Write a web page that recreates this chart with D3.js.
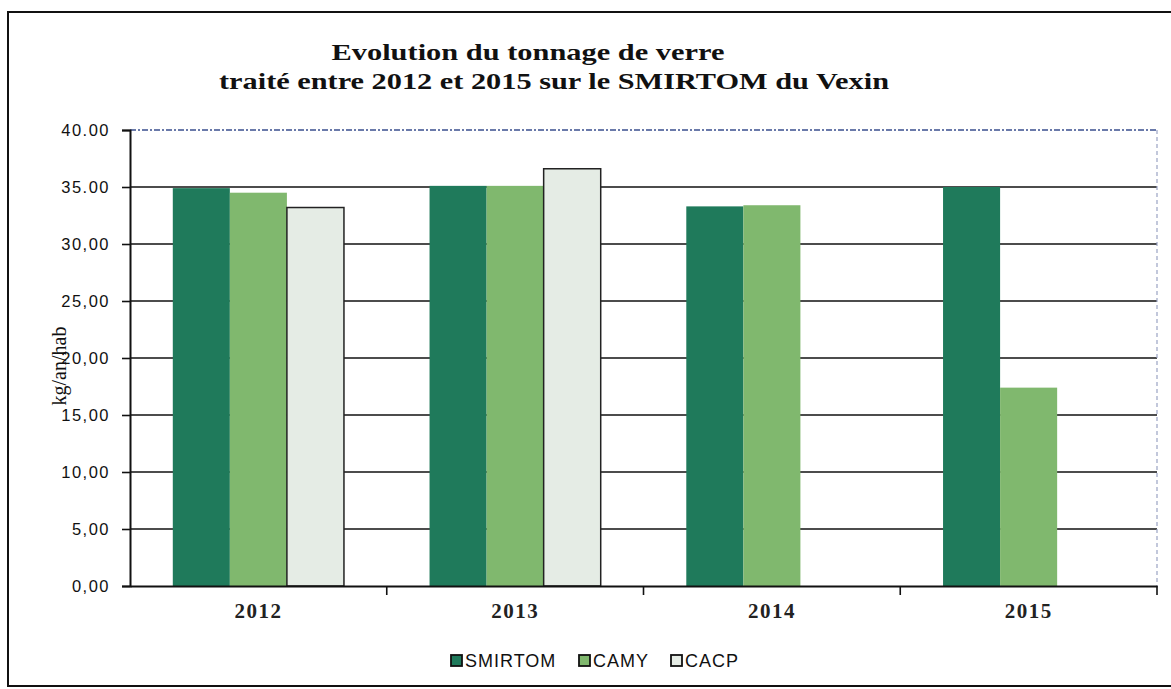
<!DOCTYPE html>
<html lang="fr">
<head>
    <meta charset="UTF-8">
    <title>Verre SMIRTOM du Vexin</title>
    <script src="https://d3js.org/d3.v7.min.js"></script>
    <style>
        body { margin: 0; background: #fff; }
    </style>
</head>
<body>
    <div id="graph"></div>
    <script>
        // données (kg/an/hab)
        const annees = ["2012", "2013", "2014", "2015"];
        const series = ["SMIRTOM", "CAMY", "CACP"];
        const smirtom = [34.9, 35.1, 33.3, 35.0];
        const camy = [34.5, 35.1, 33.4, 17.4];
        const cacp = [33.2, 36.6, null, null];
        const yTicks = [0, 5, 10, 15, 20, 25, 30, 35, 40];
        const yTickLabels = ["0,00", "5,00", "10,00", "15,00", "20,00", "25,00", "30,00", "35.00", "40.00"];
        const titre = ["Evolution du tonnage de verre", "traité entre 2012 et 2015 sur le SMIRTOM du Vexin"];

        const valeurs = { SMIRTOM: smirtom, CAMY: camy, CACP: cacp };
        const couleurs = { SMIRTOM: "#1f7a5b", CAMY: "#80b86e", CACP: "#e5ece5" };

        const W = 1171, H = 689;
        const margin = {top: 130, right: 14, bottom: 103, left: 130},
            width = W - margin.left - margin.right,
            height = H - margin.top - margin.bottom;

        const root = d3.select("#graph")
            .append("svg")
            .attr("width", W)
            .attr("height", H);

        // cadre extérieur (le bord droit sort du scan)
        root.append("path")
            .attr("d", "M1180,12 L8,12 L8,686 L1180,686")
            .attr("fill", "none")
            .attr("stroke", "#111")
            .attr("stroke-width", 2);

        // titre, étiré comme sur le scan
        const titreX = [528, 554], titreY = [60, 89], titreL = [393, 670];
        root.selectAll(".titre")
            .data(titre)
            .join("text")
            .attr("class", "titre")
            .attr("x", (d, i) => titreX[i])
            .attr("y", (d, i) => titreY[i])
            .attr("text-anchor", "middle")
            .attr("textLength", (d, i) => titreL[i])
            .attr("lengthAdjust", "spacingAndGlyphs")
            .style("font-family", "'Liberation Serif', 'Times New Roman', serif")
            .style("font-weight", "bold")
            .style("font-size", "23px")
            .attr("fill", "#111")
            .text(d => d);

        const svg = root.append("g")
            .attr("transform", `translate(${margin.left},${margin.top})`);

        const x0 = d3.scaleBand()
            .domain(annees)
            .range([0, width])
            .padding(0);

        const x1 = d3.scaleBand()
            .domain(series)
            .range([0, x0.bandwidth()])
            .paddingInner(0)
            .paddingOuter(0.75);

        const y = d3.scaleLinear()
            .domain([0, 40])
            .range([height, 0]);

        // grille
        svg.append("g")
            .selectAll("line")
            .data(yTicks.filter(d => d > 0 && d < 40))
            .join("line")
            .attr("x1", 0).attr("x2", width)
            .attr("y1", d => y(d)).attr("y2", d => y(d))
            .attr("stroke", "#111")
            .attr("stroke-width", 1.6);

        // bord de la zone de tracé (pointillé)
        svg.append("line")
            .attr("x1", 0).attr("x2", width)
            .attr("y1", y(40)).attr("y2", y(40))
            .attr("stroke", "#3a4f8f")
            .attr("stroke-width", 1.5)
            .attr("stroke-dasharray", "6,2,2,2");
        svg.append("line")
            .attr("x1", width).attr("x2", width)
            .attr("y1", y(40)).attr("y2", height)
            .attr("stroke", "#9aa3c4")
            .attr("stroke-width", 1.2)
            .attr("stroke-dasharray", "4,3");

        // barres
        const groupes = svg.append("g")
            .selectAll("g")
            .data(annees)
            .join("g")
            .attr("transform", d => `translate(${x0(d)},0)`);

        groupes.selectAll("rect")
            .data((d, i) => series.map(s => ({serie: s, v: valeurs[s][i]})).filter(e => e.v !== null))
            .join("rect")
            .attr("x", d => x1(d.serie))
            .attr("y", d => y(d.v))
            .attr("width", x1.bandwidth())
            .attr("height", d => height - y(d.v))
            .attr("fill", d => couleurs[d.serie])
            .attr("stroke", d => d.serie === "CACP" ? "#222" : "none")
            .attr("stroke-width", 1.5);

        // axe Y
        const axeY = svg.append("g")
            .call(d3.axisLeft(y).tickValues(yTicks).tickSize(8).tickFormat((d, i) => yTickLabels[i]));
        axeY.select(".domain").attr("stroke", "#111").attr("stroke-width", 2);
        axeY.selectAll(".tick line").attr("stroke", "#111").attr("stroke-width", 1.6);
        axeY.selectAll("text")
            .attr("x", -20)
            .style("font-family", "'Liberation Sans', Arial, sans-serif")
            .style("font-size", "16.5px")
            .style("letter-spacing", "1.5px")
            .attr("fill", "#111");

        // axe X
        const axeX = svg.append("g")
            .attr("transform", `translate(0,${height})`)
            .call(d3.axisBottom(x0).tickSize(0).tickPadding(17));
        axeX.select(".domain").attr("stroke", "#111").attr("stroke-width", 2);
        axeX.selectAll("text")
            .style("font-family", "'Liberation Serif', 'Times New Roman', serif")
            .style("font-size", "21px")
            .style("font-weight", "bold")
            .style("letter-spacing", "1.5px")
            .attr("fill", "#222");
        axeX.append("g")
            .selectAll("line")
            .data(annees.slice(1).concat([null]))
            .join("line")
            .attr("x1", d => d === null ? width : x0(d))
            .attr("x2", d => d === null ? width : x0(d))
            .attr("y1", 0).attr("y2", 9)
            .attr("stroke", "#111")
            .attr("stroke-width", 1.6);

        // titre axe Y
        svg.append("text")
            .attr("transform", `translate(-64,${236}) rotate(-90)`)
            .attr("text-anchor", "middle")
            .style("font-family", "'Liberation Serif', 'Times New Roman', serif")
            .style("font-size", "20px")
            .attr("fill", "#111")
            .text("kg/an/hab");

        // légende
        const legende = root.append("g")
            .attr("transform", "translate(450,667)");
        const pos = [0, 128, 220];
        const items = legende.selectAll("g")
            .data(series)
            .join("g")
            .attr("transform", (d, i) => `translate(${pos[i]},0)`);
        items.append("rect")
            .attr("x", 1).attr("y", -12)
            .attr("width", 11).attr("height", 11)
            .attr("fill", d => couleurs[d])
            .attr("stroke", "#111")
            .attr("stroke-width", 1.8);
        items.append("text")
            .attr("x", 15).attr("y", 0)
            .style("font-family", "'Liberation Sans', Arial, sans-serif")
            .style("font-size", "18px")
            .style("letter-spacing", "1px")
            .attr("fill", "#111")
            .text(d => d);
    </script>
</body>
</html>
